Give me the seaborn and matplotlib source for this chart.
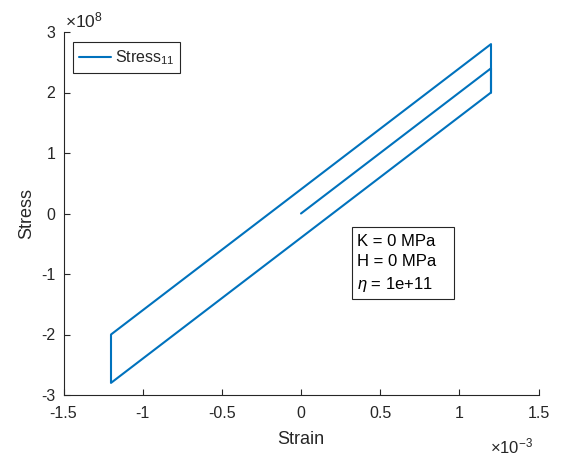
import numpy as np
import pandas as pd
import matplotlib
matplotlib.use("Agg")
import matplotlib.pyplot as plt
from matplotlib.patches import Rectangle
import seaborn as sns

strain = [0.0, 1.2e-3, 1.2e-3, -1.2e-3, -1.2e-3, 1.2e-3, 1.2e-3]
stress = [0.0, 2.4e8, 2.0e8, -2.8e8, -2.0e8, 2.8e8, 2.0e8]
xticks = [-1.5e-3, -1e-3, -0.5e-3, 0, 0.5e-3, 1e-3, 1.5e-3]
xticklabels = ["-1.5", "-1", "-0.5", "0", "0.5", "1", "1.5"]
yticks = [-3e8, -2e8, -1e8, 0, 1e8, 2e8, 3e8]
yticklabels = ["-3", "-2", "-1", "0", "1", "2", "3"]

sns.set_style("ticks")
plt.rcParams["font.family"] = ["Liberation Sans", "DejaVu Sans"]
plt.rcParams["mathtext.fontset"] = "custom"
plt.rcParams["mathtext.rm"] = "Liberation Sans"
plt.rcParams["mathtext.it"] = "Liberation Sans:italic"

df = pd.DataFrame({"Strain": strain, "Stress": stress})

W, H = 561, 459
fig = plt.figure(figsize=(W / 100, H / 100), dpi=100)
L, R, T, B = 63.5, 538.5, 32, 395
ax = fig.add_axes([L / W, 1 - B / H, (R - L) / W, (B - T) / H])


def ax_xy(px, py):
    return (px - L) / (R - L), (B - py) / (B - T)


sns.lineplot(data=df, x="Strain", y="Stress", sort=False, estimator=None,
             color="#0072BD", linewidth=1.5, ax=ax, label="Stress$_{11}$")

ax.set_xlim(-1.5e-3, 1.5e-3)
ax.set_ylim(-3e8, 3e8)
ax.set_xticks(xticks)
ax.set_xticklabels(xticklabels)
ax.set_yticks(yticks)
ax.set_yticklabels(yticklabels)
sns.despine(ax=ax)
ec = "#262626"
for s in ["left", "bottom"]:
    ax.spines[s].set_color(ec)
    ax.spines[s].set_linewidth(0.8)
ax.tick_params(direction="in", length=4.5, width=0.8, colors=ec, labelsize=11.5,
               labelcolor=ec)
ax.tick_params(axis="x", pad=8)
ax.tick_params(axis="y", pad=6)
ax.set_xlabel("Strain", fontsize=13, color=ec)
ax.set_ylabel("Stress", fontsize=13, color=ec)
ax.xaxis.set_label_coords(0.5, ax_xy(0, 430.5)[1])
ax.yaxis.set_label_coords(ax_xy(35.5, 0)[0], 0.5)

x8, y8 = ax_xy(65, 27)
ax.text(x8, y8, r"$\times10^{8}$", transform=ax.transAxes, fontsize=12.5, color=ec,
        ha="left", va="baseline")
x3, y3 = ax_xy(490, 453)
ax.text(x3, y3, r"$\times10^{-3}$", transform=ax.transAxes, fontsize=12, color=ec,
        ha="left", va="baseline")

lx, ly = ax_xy(73, 42)
leg = ax.legend(loc="upper left", bbox_to_anchor=(lx, ly), borderaxespad=0,
                fontsize=11.5, frameon=True, fancybox=False, edgecolor=ec,
                handlelength=2.0, handletextpad=0.2, borderpad=0.4)
leg.get_frame().set_linewidth(0.8)
leg.get_frame().set_alpha(1)

bx0, by0 = ax_xy(352, 299)
bx1, by1 = ax_xy(454, 227)
ax.add_patch(Rectangle((bx0, by0), bx1 - bx0, by1 - by0, transform=ax.transAxes,
                       fc="white", ec=ec, lw=0.8, zorder=5))
tx, ty = ax_xy(357, 234)
ax.text(tx, ty, "K = 0 MPa\nH = 0 MPa\n$\\eta$ = 1e+11", transform=ax.transAxes,
        fontsize=12, color="black", ha="left", va="top", linespacing=1.42, zorder=6)

fig.savefig("out.png", dpi=100)
